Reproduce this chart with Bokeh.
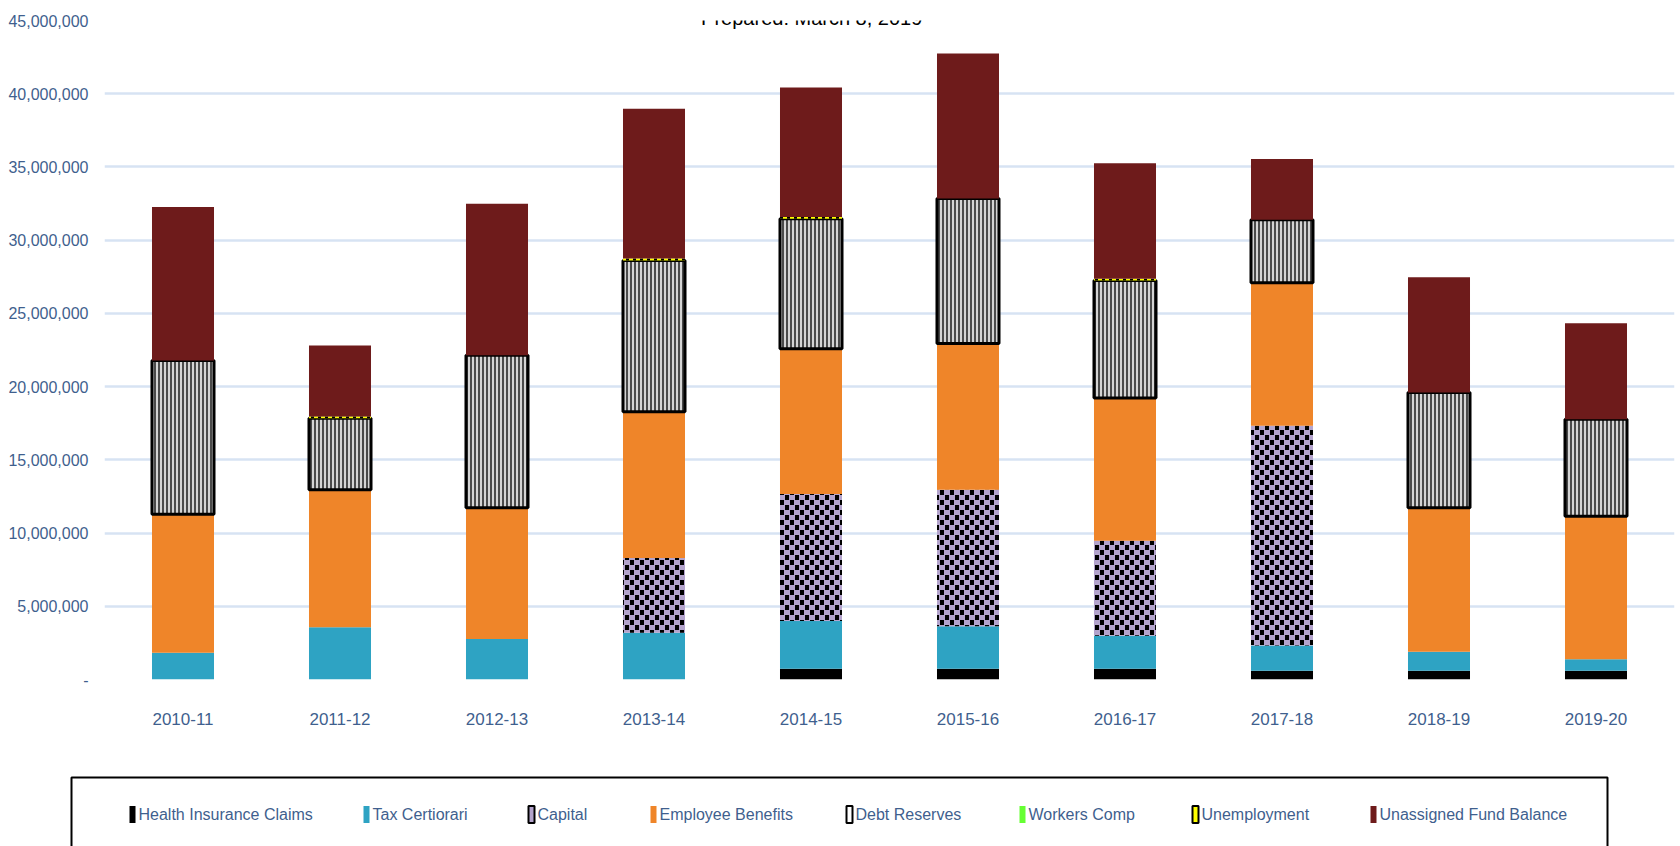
import numpy as np
from bokeh.plotting import figure
from bokeh.models import (Range1d, FactorRange, FixedTicker, NumeralTickFormatter,
                          Label, CanvasTexture, ColumnDataSource)
from bokeh.layouts import column
from bokeh.core.properties import value
from bokeh.embed import file_html
from bokeh.resources import INLINE

# ---------------- data (millions of dollars) ----------------
years = ["2010-11", "2011-12", "2012-13", "2013-14", "2014-15",
         "2015-16", "2016-17", "2017-18", "2018-19", "2019-20"]
health_insurance_claims = [0, 0, 0, 0, 0.73, 0.73, 0.73, 0.60, 0.60, 0.60]
tax_certiorari = [1.82, 3.57, 2.77, 3.20, 3.27, 2.91, 2.26, 1.73, 1.29, 0.78]
capital = [0, 0, 0, 5.10, 8.67, 9.32, 6.48, 15.00, 0, 0]
employee_benefits = [9.47, 9.39, 8.96, 9.98, 9.91, 9.98, 9.76, 9.76, 9.84, 9.76]
debt_reserves = [10.49, 4.88, 10.41, 10.34, 8.88, 9.91, 8.01, 4.30, 7.86, 6.63]
workers_comp = [0, 0, 0, 0, 0, 0, 0, 0, 0, 0]
unemployment = [0, 0.12, 0, 0.12, 0.12, 0, 0.12, 0, 0, 0]
unassigned_fund_balance = [10.48, 4.84, 10.34, 10.23, 8.84, 9.90, 7.89, 4.15, 7.87, 6.56]

series_names = ["Health Insurance Claims", "Tax Certiorari", "Capital", "Employee Benefits",
                "Debt Reserves", "Workers Comp", "Unemployment", "Unassigned Fund Balance"]
series_values = [health_insurance_claims, tax_certiorari, capital, employee_benefits,
                 debt_reserves, workers_comp, unemployment, unassigned_fund_balance]
y_ticks = [0, 5e6, 10e6, 15e6, 20e6, 25e6, 30e6, 35e6, 40e6, 45e6]
title_text = "Prepared:  March 8, 2019"

FONT = "Liberation Sans"
LABEL_COLOR = "#3f5f8e"

checker = CanvasTexture(code="""
const c = ctx.canvas;
if (c) { c.width = 10; c.height = 10; }
ctx.fillStyle = color;
ctx.fillRect(0, 0, 4, 5);
ctx.fillRect(5, 5, 4, 5);
""", repetition="repeat")

styles = [
    dict(fill_color="#000000", line_color=None),
    dict(fill_color="#2ea3c3", line_color=None),
    dict(fill_color="#b3a3cc", line_color=None, hatch_pattern=value("checker"),
         hatch_color="#000000", hatch_scale=10, hatch_extra={"checker": checker}),
    dict(fill_color="#ef8529", line_color=None),
    dict(fill_color="#d4d4d4", line_color="#000000", line_width=3,
         hatch_pattern="vertical_line", hatch_color="#000000", hatch_scale=4, hatch_weight=1.3),
    dict(fill_color="#66ff33", line_color=None),
    dict(fill_color="#ffff00", line_color=None, hatch_pattern="vertical_line",
         hatch_color="#000000", hatch_scale=7, hatch_weight=3),
    dict(fill_color="#6e1b1b", line_color=None),
]
legend_fill = ["#000000", "#2ea3c3", "#b3a3cc", "#ef8529", "#ffffff", "#66ff33", "#ffff00", "#6e1b1b"]
legend_outline = [None, None, "#000000", None, "#000000", None, "#000000", None]

# ---------------- main chart ----------------
p = figure(width=1680, height=770, x_range=FactorRange(factors=years, range_padding=0),
           y_range=Range1d(0, 45e6), output_backend="svg", toolbar_location=None,
           min_border_left=104, min_border_right=6, min_border_top=20, min_border_bottom=91)
p.frame_align = False
p.outline_line_color = None
p.background_fill_color = "white"
p.border_fill_color = "white"

bottom = np.zeros(len(years))
for name, vals, st in zip(series_names, series_values, styles):
    v = np.array(vals, dtype=float) * 1e6
    src = ColumnDataSource(dict(x=years, bottom=bottom.copy(), top=bottom + v))
    if v.sum() > 0:
        p.vbar(x="x", bottom="bottom", top="top", width=0.395, source=src, **st)
    bottom = bottom + v

p.xgrid.grid_line_color = None
p.ygrid.grid_line_color = "#d7e3f3"
p.ygrid.grid_line_width = 2.5

p.yaxis.ticker = FixedTicker(ticks=y_ticks)
p.yaxis.formatter = NumeralTickFormatter(format="0,0")
p.yaxis.major_label_overrides = {0: "-"}
for ax in (p.xaxis[0], p.yaxis[0]):
    ax.axis_line_color = None
    ax.major_tick_line_color = None
    ax.minor_tick_line_color = None
    ax.major_tick_out = 0
    ax.major_tick_in = 0
    ax.major_label_text_font = FONT
    ax.major_label_text_color = LABEL_COLOR
p.yaxis.major_label_text_font_size = "16px"
p.yaxis.major_label_standoff = 16
p.xaxis.major_label_text_font_size = "17px"
p.xaxis.major_label_standoff = 33

p.add_layout(Label(x=710, y=662, x_units="screen", y_units="screen", text=title_text,
                   text_align="center", text_baseline="alphabetic", text_font=FONT,
                   text_font_size="20px", text_color="#000000"))

# ---------------- legend panel ----------------
legend_marker_x = [132, 366, 531, 653, 849, 1022, 1195, 1373]
leg = figure(width=1680, height=76, x_range=Range1d(0, 1680), y_range=Range1d(76, 0),
             output_backend="svg", toolbar_location=None,
             min_border_left=0, min_border_right=0, min_border_top=0, min_border_bottom=0,
             x_axis_location=None, y_axis_location=None)
leg.frame_align = False
leg.outline_line_color = None
leg.xgrid.visible = False
leg.ygrid.visible = False
leg.quad(left=[71], right=[1607], top=[7], bottom=[90], fill_color=None,
         line_color="#000000", line_width=2)

for name, fc, lc, mx in zip(series_names, legend_fill, legend_outline, legend_marker_x):
    leg.rect(x=[mx], y=[44], width=6, height=17, fill_color=fc, line_color=lc,
             line_width=2)
    leg.text(x=[mx + 6], y=[44], text=[name], text_font=value(FONT), text_font_size="16px",
             text_color=LABEL_COLOR, text_baseline="middle", text_align="left")

layout = column(p, leg, spacing=0)
open("out.html", "w").write(file_html(layout, INLINE))
